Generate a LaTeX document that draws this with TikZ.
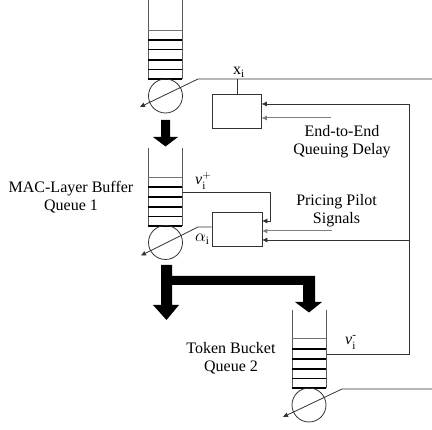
\documentclass[tikz,border=0pt]{standalone}
\usepackage{fontspec}
\usepackage{amsmath}
\setmainfont{Liberation Serif}
\usetikzlibrary{arrows.meta}
\begin{document}
\begin{tikzpicture}[x=1pt,y=-1pt,
  ln/.style={line width=0.8pt, draw=black!80},
  slot/.style={line width=1.4pt, draw=black},
  topslot/.style={line width=1pt, draw=black!55},
  wall/.style={line width=0.8pt, draw=black!65},
  tip/.style={-{Triangle[length=5pt,width=4.5pt]}},
  gr/.style={line width=1pt, draw=black!50},
  bigarrow/.style={fill=black},
  box/.style={draw=black!80, line width=0.8pt, minimum height=34pt, inner sep=0},
  srv/.style={circle, draw=black!80, line width=0.8pt, minimum size=34pt, inner sep=0},
  lbl/.style={font=\fontsize{16}{18}\selectfont, align=center, inner sep=0},
  sym/.style={font=\fontsize{16}{18}\selectfont, inner sep=0, anchor=base west},
  ]
\useasboundingbox (0,0) rectangle (432,430);

% ---------- queue 1 (top, partial) ----------
\draw[wall] (148,0) -- (148,79) (182,0) -- (182,79);
\draw[topslot] (148,31) -- (182,31);
\foreach \y in {40,49.5,60,69.5,79} \draw[slot] (148,\y) -- (182,\y);
\node[srv] (c1) at (165.5,96) {};
\coordinate (o1) at (432,79);
\coordinate (k1) at (198,79);
\coordinate (t1) at (140,107);
\draw[ln,tip] (o1) -- (k1) -- (t1);

% ---------- box 1 ----------
\node[box, minimum width=49pt] (b1) at (237,111) {};
\coordinate (xj) at (237,79);
\draw[ln] (xj) -- (b1.north);
\node[sym] (xl) at (233,75) {x$_{\mathrm{i}}$};
\coordinate (e1) at (331,118);
\draw[gr,tip] (e1) -- (b1.east |- e1);

% ---------- big arrow 1 ----------
\fill[bigarrow] (161,120) -- (170,120) -- (170,137) -- (178,137) -- (165.5,146.5)
  -- (153,137) -- (161,137) -- cycle;

% ---------- queue 1 (middle) ----------
\draw[wall] (148,148) -- (148,226) (182,148) -- (182,226);
\draw[topslot] (148,178) -- (182,178);
\foreach \y in {187,197,207,216.5,226} \draw[slot] (148,\y) -- (182,\y);
\node[srv] (c2) at (165.5,242.5) {};
\node[lbl, anchor=base] (mac) at (71,211) {MAC-Layer Buffer\\Queue 1};
\node[sym] (vp) at (195,185) {\textit{v}$_{\mathrm{i}}^{+}$};

% ---------- box 2 ----------
\node[box, minimum width=50pt] (b2) at (237,229) {};
\coordinate (q1o) at (182,192);
\coordinate (q1c) at (270,192);
\draw[ln,tip] (q1o) -- (q1c) |- ([yshift=8pt]b2.east);
\coordinate (e2) at (332,231);
\draw[gr,tip] (e2) -- (b2.east |- e2);
\coordinate (k2) at (198,227);
\coordinate (t2) at (141,255.5);
\draw[ln,tip] (b2.west |- k2) -- (k2) -- (t2);
\node[sym] (al) at (195,242) {$\alpha_{\mathrm{i}}$};

% ---------- right feedback line ----------
\coordinate (q2o) at (326,354);
\coordinate (fr) at (409,104);
\coordinate (fm) at (409,240);
\draw[ln,tip] (q2o) -| (fr) -- (b1.east |- fr);
\draw[ln,tip] (fm) -- (b2.east |- fm);

\node[lbl, anchor=base] (e2e) at (342,155) {End-to-End\\Queuing Delay};
\node[lbl, anchor=base] (pps) at (336.5,224) {Pricing Pilot\\Signals};

% ---------- big L arrow ----------
\fill[bigarrow] (161,265) -- (172,265) -- (172,276) -- (315,276) -- (315,302)
  -- (322,302) -- (309,312.5) -- (295,302) -- (303,302) -- (303,285) -- (172,285)
  -- (172,305) -- (179,305) -- (166.5,320) -- (153,305) -- (161,305) -- cycle;

% ---------- queue 2 ----------
\draw[wall] (292,310) -- (292,388) (326,310) -- (326,388);
\draw[topslot] (292,339) -- (326,339);
\foreach \y in {349,359,369,378.5,388} \draw[slot] (292,\y) -- (326,\y);
\node[srv] (c3) at (309,405) {};
\coordinate (o3) at (432,389);
\coordinate (k3) at (342,389);
\coordinate (t3) at (283,417);
\draw[ln,tip] (o3) -- (k3) -- (t3);
\node[sym] (vm) at (345,345) {\textit{v}$_{\mathrm{i}}^{\text{-}}$};
\node[lbl, anchor=base] (tb) at (231,372) {Token Bucket\\Queue 2};
\end{tikzpicture}
\end{document}
